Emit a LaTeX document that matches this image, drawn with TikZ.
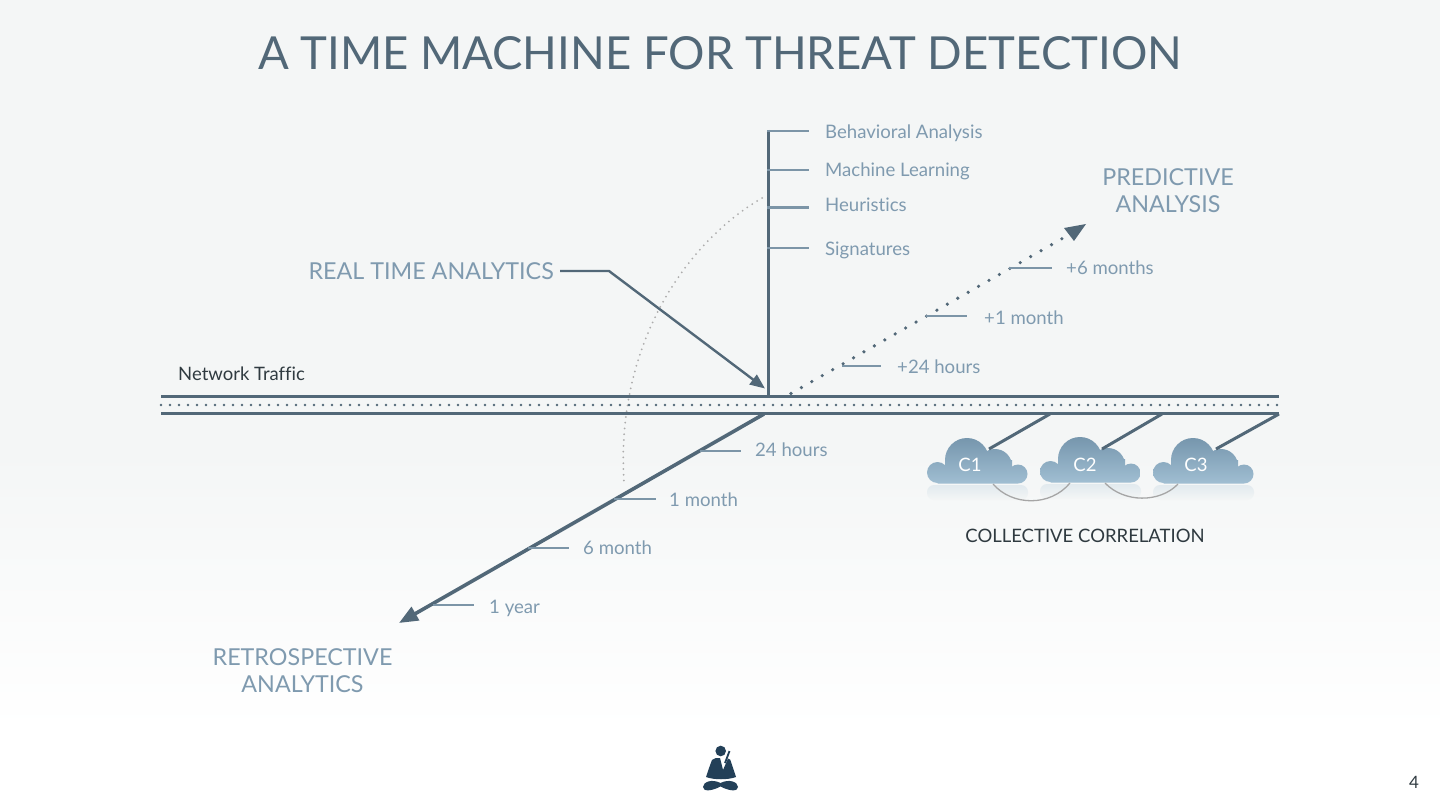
\documentclass[tikz,border=0pt]{standalone}
\usepackage{fontspec}
\setmainfont{Lato}[Ligatures=CommonOff]
\usetikzlibrary{arrows.meta}
\definecolor{bgtop}{HTML}{F4F6F6}
\definecolor{slate}{HTML}{526878}
\definecolor{tick}{HTML}{7C95A7}
\definecolor{lab}{HTML}{7F9AAF}
\definecolor{ink}{HTML}{2F3A40}
\definecolor{cloudtop}{HTML}{7696AD}
\definecolor{cloudbot}{HTML}{A0BED2}
\definecolor{monk}{HTML}{234058}
\tikzset{
  x=1pt,y=-1pt,
  rail/.style={draw=slate,line width=3pt},
  axisline/.style={draw=slate,line width=3pt},
  tickline/.style={draw=tick,line width=2pt},
  lbl/.style={font=\fontsize{18.6}{22}\selectfont,text=lab,inner sep=0pt,anchor=base west},
  biglbl/.style={font=\fontsize{23.3}{27}\selectfont,text=lab,inner sep=0pt,align=center},
  darklbl/.style={font=\fontsize{18.5}{22}\selectfont,text=ink,inner sep=0pt},
  cloudlbl/.style={font=\fontsize{18.5}{22}\selectfont,text=white,inner sep=0pt},
  link/.style={draw=gray!70,line width=1.3pt},
}
\newcommand{\cloudshape}[2]{%
  \shade[top color=cloudbot!22!bgtop,bottom color=bgtop,rounded corners=7pt,shift={(#1,#2)}]
    (0,47) rectangle (101,62);
  \shade[top color=cloudtop,bottom color=cloudbot,shift={(#1,#2)}]
    (10.5,34.5) circle[radius=10.5pt]
    (91,36) circle[radius=9.5pt]
    (40,22) circle[radius=22pt]
    (68,28) circle[radius=17pt]
    (18,22) rectangle (85,45.5)
    (10.5,34) rectangle (91,45.5);
}
\begin{document}
\begin{tikzpicture}
\useasboundingbox (0,0) rectangle (1440,810);
\fill[bgtop] (0,0) rectangle (1440,450);
\shade[top color=bgtop,bottom color=white] (0,450) rectangle (1440,730);
\fill[white] (0,730) rectangle (1440,810);

% title
\node[font=\fontsize{45.5}{50}\selectfont,text=slate,inner sep=0pt] (title) at (720,53) {A TIME MACHINE FOR THREAT DETECTION};

% key points
\coordinate (railLtop) at (161,396.7);
\coordinate (railRtop) at (1279,396.7);
\coordinate (railLmid) at (161,405);
\coordinate (railRmid) at (1279,405);
\coordinate (railLbot) at (161,413.3);
\coordinate (railRbot) at (1279,413.3);
\coordinate (vtop) at (768,130);
\coordinate (vbot) at (768,396);
\coordinate (retroS) at (764,414);
\coordinate (retroE) at (399,623);
\coordinate (predS) at (791,393.5);
\coordinate (predE) at (1086,224);
\coordinate (rtA) at (560,271);
\coordinate (rtB) at (609,271);
\coordinate (rtC) at (765,388.5);

% clouds
\cloudshape{927}{438}
\cloudshape{1040}{437}
\cloudshape{1153}{438}
\node[cloudlbl] (c1) at (970,465) {C1};
\node[cloudlbl] (c2) at (1085,465) {C2};
\node[cloudlbl] (c3) at (1196,465) {C3};
\coordinate (c1a) at (993,484);
\coordinate (c2a) at (1070,483);
\coordinate (c2b) at (1105,483);
\coordinate (c3a) at (1178,484);
\draw[link] (c1a) .. controls (1012,506) and (1050,507) .. (c2a);
\draw[link] (c2b) .. controls (1124,503) and (1160,503) .. (c3a);
\coordinate (b1) at (1050,414);\coordinate (e1) at (989,449);
\coordinate (b2) at (1162,414);\coordinate (e2) at (1102,449);
\coordinate (b3) at (1279,414);\coordinate (e3) at (1216,449);
\draw[axisline] (b1) -- (e1);
\draw[axisline] (b2) -- (e2);
\draw[axisline] (b3) -- (e3);

% dotted arc
\coordinate (arcS) at (762,198);
\coordinate (arcE) at (624,483);
\draw[draw=gray!65,line width=2pt,line cap=round,dash pattern=on 0pt off 5.8pt] (arcS) .. controls (690,240) and (615,340) .. (arcE);

% rails
\draw[rail] (railLtop) -- (railRtop);
\draw[rail] (railLbot) -- (railRbot);
\draw[draw=slate,line width=2.8pt,line cap=round,dash pattern=on 0pt off 9pt] (railLmid) -- (railRmid);

% vertical axis + ticks
\draw[axisline] (vtop) -- (vbot);
\foreach \n/\y/\w in {a/131/2,b/170/2,c/208/3,d/248/2}{
  \coordinate (vt\n) at (767,\y);
  \coordinate (vte\n) at (809,\y);
  \draw[tickline,line width=\w pt] (vt\n) -- (vte\n);
}
\node[lbl] (behav) at (825,139) {Behavioral Analysis};
\node[lbl] (ml) at (825,177) {Machine Learning};
\node[lbl] (heur) at (825,212) {Heuristics};
\node[lbl] (sig) at (825,256) {Signatures};

% real time analytics
\node[biglbl,anchor=east] (rta) at (554,271) {REAL TIME ANALYTICS};
\draw[draw=slate,line width=2.4pt,-{Triangle[length=15pt,width=12pt]}] (rtA) -- (rtB) -- (rtC);

% predictive
\draw[draw=slate,line width=3.6pt,line cap=round,dash pattern=on 0pt off 12pt] (predS) -- (1065,237);
\path[fill=slate] (predE) -- (1064,228) -- (1074,241) -- cycle;
\node[biglbl] (pred) at (1168,190.5) {PREDICTIVE\\ANALYSIS};
\foreach \n/\xa/\xb/\y in {p/842/881/365.5,q/926/967/316,r/1009/1052/268}{
  \coordinate (pt\n) at (\xa,\y);
  \coordinate (pe\n) at (\xb,\y);
  \draw[tickline] (pt\n) -- (pe\n);
}
\node[lbl] (h24p) at (897,373) {+24 hours};
\node[lbl] (m1p) at (984,324) {+1 month};
\node[lbl] (m6p) at (1066,275) {+6 months};

% retrospective
\draw[axisline,line width=3.6pt,-{Triangle[length=19pt,width=15pt]}] (retroS) -- (retroE);
\foreach \n/\xa/\xb/\y in {s/700/741/451,t/614/656/499,u/528/569/548,v/433/474/605}{
  \coordinate (rt\n) at (\xa,\y);
  \coordinate (re\n) at (\xb,\y);
  \draw[tickline] (rt\n) -- (re\n);
}
\node[lbl] (h24) at (755,456.5) {24 hours};
\node[lbl] (m1) at (669,506.5) {1 month};
\node[lbl] (m6) at (583,554.5) {6 month};
\node[lbl] (y1) at (489,613.5) {1 year};
\node[biglbl] (retro) at (302.5,670.5) {RETROSPECTIVE\\ANALYTICS};

% other labels
\node[darklbl,anchor=base west] (net) at (178,380) {Network Traffic};
\node[darklbl] (cc) at (1085,536) {COLLECTIVE CORRELATION};
\node[font=\fontsize{17}{20}\selectfont,text=ink,inner sep=0pt] (page) at (1414,782) {4};

% meditating figure
\fill[monk] (720.7,751) circle[radius=5.3pt];
\fill[monk] (712,760) .. controls (714,758) and (717,757.5) .. (720,758) -- (723,770) -- (728,758.5) .. controls (730,759) and (731,760) .. (731,762) -- (736,777) .. controls (728,780) and (714,780) .. (706,777) .. controls (708,771) and (710,765) .. (712,760) -- cycle;
\fill[monk] (703,787) .. controls (703,782) and (712,778.5) .. (720.5,783) .. controls (729,778.5) and (738,782) .. (738,787) .. controls (738,792) and (729,791) .. (720.5,786.5) .. controls (712,791) and (703,792) .. (703,787) -- cycle;
\draw[monk,line width=1.8pt] (725,763) -- (729.5,751);
\end{tikzpicture}
\end{document}
